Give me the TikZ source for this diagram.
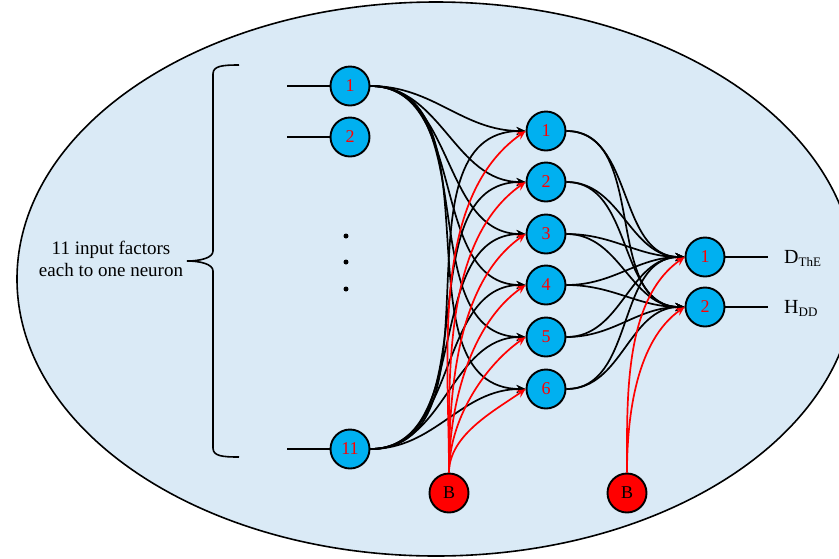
\documentclass[tikz,border=0pt]{standalone}
\usepackage{fontspec}
\setmainfont{Liberation Serif}
\usetikzlibrary{arrows.meta}
\definecolor{bgblue}{RGB}{218,234,246}
\definecolor{neuronblue}{RGB}{0,176,240}
\begin{document}
\begin{tikzpicture}[x=1pt,y=1pt,
  neuron/.style={circle,draw=black,line width=1.9pt,fill=neuronblue,minimum size=39pt,inner sep=0pt,
    text=red,font=\fontsize{18}{18}\selectfont},
  bias/.style={circle,draw=black,line width=1.9pt,fill=red,minimum size=39pt,inner sep=0pt,
    text=black,font=\fontsize{18}{18}\selectfont},
  conn/.style={line width=1.7pt,-{Stealth[length=9pt,width=8pt,inset=3pt]}},
  rconn/.style={conn,draw=red},
  plain/.style={line width=1.7pt},
  lbl/.style={font=\fontsize{20}{20}\selectfont,inner sep=0pt,anchor=base west}]
\useasboundingbox (0,0) rectangle (839,-558);
\begin{scope}
\clip (0,0) rectangle (839,-558);
\draw[fill=bgblue,line width=1.6pt] (436,-279) ellipse [x radius=419,y radius=277];
\end{scope}

% brace and text
\draw[line width=1.6pt] (239,-65) .. controls (222,-65) and (213,-66) .. (213,-74) -- (213,-251)
  .. controls (213,-258) and (200,-261) .. (187,-261)
  .. controls (200,-261) and (213,-264) .. (213,-271) -- (213,-448)
  .. controls (213,-456) and (222,-457) .. (239,-457);
\node[align=center,font=\fontsize{19}{22}\selectfont] (txt) at (111,-259) {11 input factors\\each to one neuron};

% input layer
\node[neuron] (i1) at (350,-86) {1};
\node[neuron] (i2) at (350,-137) {2};
\node[neuron] (i11) at (350,-449) {11};
\coordinate (s1) at (287,-86);
\coordinate (s2) at (287,-137);
\coordinate (s11) at (287,-449);
\draw[plain] (s1) -- (i1.west);
\draw[plain] (s2) -- (i2.west);
\draw[plain] (s11) -- (i11.west);
\fill (346,-236) circle (2.5pt) (346,-262) circle (2.5pt) (346,-289) circle (2.5pt);

% hidden layer
\foreach \j/\y in {1/131,2/182,3/234,4/285,5/337,6/389}
  \node[neuron] (h\j) at (546,-\y) {\j};

% output layer
\node[neuron] (o1) at (705,-257) {1};
\node[neuron] (o2) at (705,-307) {2};
\coordinate (e1) at (768,-257);
\coordinate (e2) at (768,-307);
\draw[plain] (o1.east) -- (e1);
\draw[plain] (o2.east) -- (e2);
\node[lbl] (d) at (784,-263) {D\raisebox{-3pt}{\fontsize{13}{13}\selectfont ThE}};
\node[lbl] (hd) at (784,-313) {H\raisebox{-3pt}{\fontsize{13}{13}\selectfont DD}};

% bias
\node[bias] (b1) at (449,-493) {B};
\node[bias] (b2) at (627,-493) {B};

% connections
\foreach \j in {1,...,6} {
  \draw[conn] (i1.east) to[out=0,in=180] (h\j.west);
  \draw[conn] (i11.east) to[out=0,in=180] (h\j.west);
}
\foreach \j in {1,...,6} {
  \foreach \k in {1,2} {
    \draw[conn] (h\j.east) to[out=0,in=180] (o\k.west);
  }
}
\foreach \j in {1,...,6}
  \draw[rconn] (b1.north) to[out=90,in=215,looseness=0.85] (h\j.west);
\foreach \k in {1,2}
  \draw[rconn] (b2.north) to[out=90,in=215,looseness=0.85] (o\k.west);
\end{tikzpicture}
\end{document}
